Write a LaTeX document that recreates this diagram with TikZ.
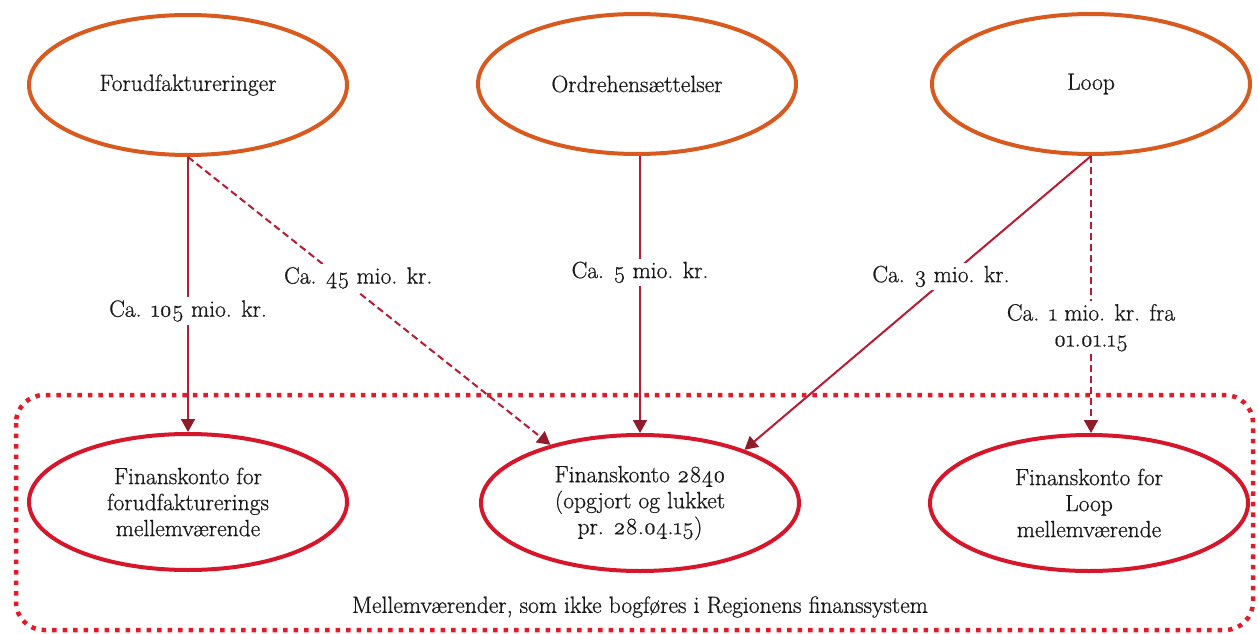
\documentclass[tikz,border=0pt]{standalone}
\usepackage{fontspec}
\setmainfont{Latin Modern Roman}[Numbers=OldStyle, FakeBold=0.7]
\usetikzlibrary{arrows.meta,shapes.geometric}
\definecolor{topc}{HTML}{D95A1E}
\definecolor{botc}{HTML}{D5162B}
\definecolor{arrc}{HTML}{B71C33}
\definecolor{tipc}{HTML}{8E1C2A}
\definecolor{dotc}{HTML}{E21B2A}
\tikzset{
  topell/.style={ellipse, draw=topc, line width=4pt, minimum width=318pt, minimum height=140pt, inner sep=0pt, align=center},
  botell/.style={ellipse, draw=botc, line width=4pt, minimum width=318pt, minimum height=136pt, inner sep=0pt, align=center},
  conn/.style={draw=arrc, line width=2pt, -{Triangle[length=13pt,width=14pt,fill=tipc,color=tipc]}},
  dconn/.style={conn, dash pattern=on 7pt off 4pt},
  lbl/.style={fill=white, inner sep=3pt, align=center},
  every node/.style={font=\fontsize{23.5}{26}\selectfont, text=black!90}
}
\begin{document}
\begin{tikzpicture}[x=1pt,y=-1pt]
\useasboundingbox (0,0) rectangle (1258,634);
\fill[white] (0,0) rectangle (1258,634);
% dotted boundary
\draw[dotc, line width=4.5pt, dash pattern=on 4.5pt off 6pt, rounded corners=28pt] (16,395) rectangle (1253,630);
\node[topell] (forud) at (188,85) {Forudfaktureringer};
\node[topell] (ordre) at (637,84) {Ordrehensættelser};
\node[topell] (loop) at (1091,84) {Loop};
\node[botell] (fk1) at (188,502) {Finanskonto for\\forudfakturerings\\mellemværende};
\node[botell] (fk2) at (640,503) {Finanskonto 2840\\(opgjort og lukket\\pr. 28.04.15)};
\node[botell] (fk3) at (1089,503) {Finanskonto for\\Loop\\mellemværende};
\node (msg) at (640,607) {Mellemværender, som ikke bogføres i Regionens finanssystem};
% connectors
\draw[conn] (forud.south) -- (fk1.north) node[lbl, pos=0.56] {Ca. 105 mio. kr.};
\draw[dconn] (forud.south) -- (fk2.147) node[lbl, pos=0.42, xshift=18pt] {Ca. 45 mio. kr.};
\draw[conn] (ordre.south -| fk2.north) -- (fk2.north) node[lbl, pos=0.42] {Ca. 5 mio. kr.};
\draw[conn] (loop.south) -- (fk2.27) node[lbl, pos=0.41, xshift=-8pt] {Ca. 3 mio. kr.};
\draw[dconn] (loop.south) -- (loop.south |- fk3.north) node[lbl, pos=0.62] {Ca. 1 mio. kr. fra\\01.01.15};
\end{tikzpicture}
\end{document}
